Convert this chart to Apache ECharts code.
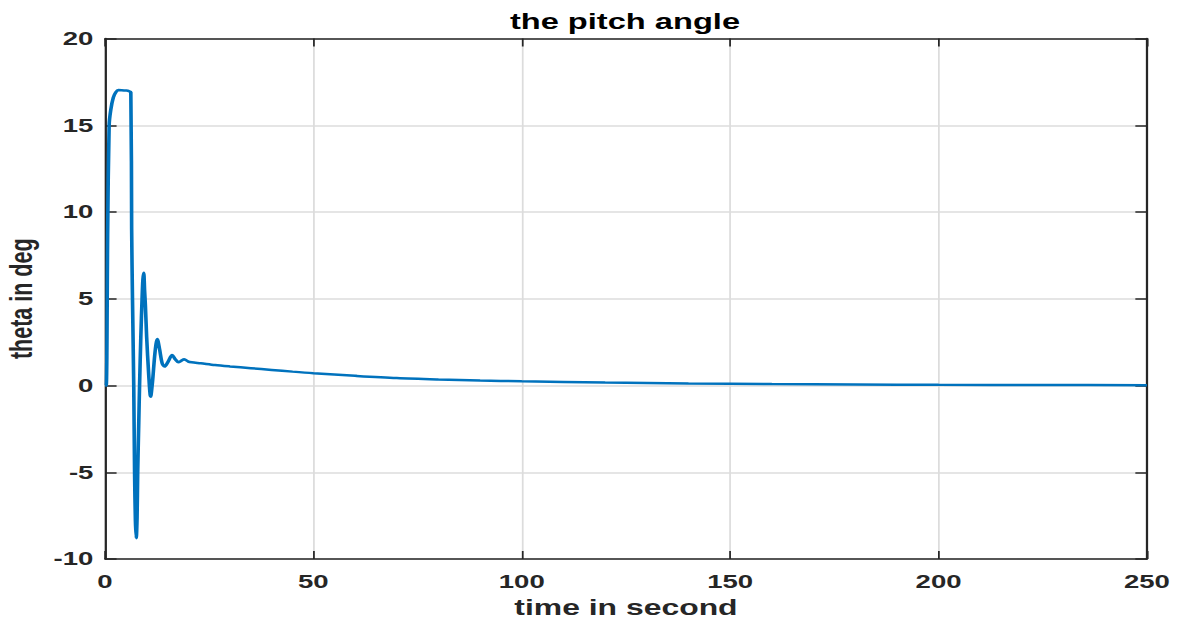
<!DOCTYPE html>
<html>
<head>
<meta charset="utf-8">
<script src="https://cdn.jsdelivr.net/npm/echarts@6/dist/echarts.min.js"></script>
<style>
html,body{margin:0;padding:0;background:#fff;}
#wrap{width:1183px;height:621px;overflow:hidden;}
/* the reference figure is stretched sideways, so the chart is drawn narrower and scaled */
#main{width:816px;height:621px;transform:scaleX(1.45);transform-origin:0 0;}
</style>
</head>
<body>
<div id="wrap"><div id="main"></div></div>
<script>
// time (s) and pitch angle (deg)
let timeS = [0, 0.3, 0.65, 1.0, 1.4, 2.0, 2.6, 3.2, 4.0, 5.0, 5.6, 6.2, 6.4, 6.6, 6.9, 7.1, 7.3, 7.5, 7.7, 7.85, 8.1, 8.3, 8.6, 8.9, 9.1, 9.3, 9.5, 9.7, 10.0, 10.5, 10.95, 11.4, 12.0, 12.55, 13.1, 13.7, 14.3, 15.2, 16.1, 16.9, 17.6, 18.3, 19.0, 20.0, 20.8, 23, 26.4, 30, 35, 40, 45, 50, 60, 70, 80, 90, 100, 120, 140, 160, 180, 200, 225, 250];
let theta = [0, 0, 9.0, 15.0, 15.9, 16.6, 16.9, 17.03, 17.02, 17.0, 16.98, 16.9, 9.0, 5.0, 0, -5.0, -7.8, -8.8, -7.6, -5.0, -2.2, 0, 2.8, 5.0, 6.1, 6.5, 5.5, 4.6, 2.8, 0.6, -0.65, 0.2, 1.9, 2.68, 2.1, 1.3, 1.09, 1.4, 1.76, 1.5, 1.34, 1.42, 1.51, 1.38, 1.34, 1.28, 1.18, 1.1, 1.0, 0.9, 0.8, 0.71, 0.56, 0.43, 0.35, 0.29, 0.24, 0.17, 0.12, 0.08, 0.06, 0.04, 0.03, 0.02];
let xTicks = [0, 50, 100, 150, 200, 250];
let yTicks = [-10, -5, 0, 5, 10, 15, 20];

let chart = echarts.init(document.getElementById('main'), null, {renderer: 'svg'});
let pts = timeS.map(function (t, i) { return [t, theta[i]]; });
let dark = '#262626';
let labelFont = {fontFamily: 'Liberation Sans', fontWeight: 'bold', fontSize: 19, color: dark};
let edge = {show: true, onZero: false, lineStyle: {color: dark, width: 1.5}};
let xRange = {type: 'value', min: xTicks[0], max: xTicks[xTicks.length - 1], interval: 50};
let yRange = {type: 'value', min: yTicks[0], max: yTicks[yTicks.length - 1], interval: 5};
let noMarks = {axisLine: {show: false, onZero: false}, axisTick: {show: false}, axisLabel: {show: false}};

let option = {
    animation: false,
    title: {
        text: 'the pitch angle',
        left: 426, top: 5, textAlign: 'center',
        textStyle: {fontFamily: 'Liberation Sans', fontWeight: 'bold', fontSize: 22.5, color: '#000'}
    },
    grid: {left: 72.4, right: 25, top: 38.5, bottom: 62, outerBoundsMode: 'none', containLabel: false},
    xAxis: [
        Object.assign({
            z: 2, position: 'bottom',
            name: 'time in second', nameLocation: 'middle', nameGap: 36,
            nameTextStyle: {fontFamily: 'Liberation Sans', fontWeight: 'bold', fontSize: 22, color: dark},
            axisLine: edge,
            axisTick: {inside: true, length: 8, lineStyle: {color: dark, width: 1.2}},
            axisLabel: Object.assign({margin: 13}, labelFont),
            splitLine: {show: false}
        }, xRange),
        Object.assign({
            z: 2, position: 'top',
            axisLine: edge, axisLabel: {show: false}, splitLine: {show: false},
            axisTick: {inside: true, length: 8, lineStyle: {color: dark, width: 1.2}}
        }, xRange),
        // grid lines only
        Object.assign({
            z: 0, position: 'bottom',
            splitLine: {show: true, lineStyle: {color: '#dcdcdc', width: 1.2}}
        }, noMarks, xRange)
    ],
    yAxis: [
        Object.assign({
            z: 2, position: 'left',
            name: 'theta in deg', nameLocation: 'middle', nameGap: 46, nameRotate: 90,
            nameTextStyle: {fontFamily: 'Liberation Sans', fontWeight: 'bold', fontSize: 21.5, color: dark},
            axisLine: edge,
            axisTick: {inside: true, length: 8, lineStyle: {color: dark, width: 1.5}},
            axisLabel: Object.assign({margin: 8}, labelFont),
            splitLine: {show: false}
        }, yRange),
        Object.assign({
            z: 2, position: 'right',
            axisLine: edge, axisLabel: {show: false}, splitLine: {show: false},
            axisTick: {inside: true, length: 8, lineStyle: {color: dark, width: 1.5}}
        }, yRange),
        Object.assign({
            z: 0, position: 'left',
            splitLine: {show: true, lineStyle: {color: '#dcdcdc', width: 1.5}}
        }, noMarks, yRange)
    ],
    series: [{
        type: 'line',
        z: 3,
        data: pts,
        showSymbol: false,
        smooth: 0.3,
        lineStyle: {color: '#0072BD', width: 2.5}
    }]
};
chart.setOption(option);
</script>
</body>
</html>
